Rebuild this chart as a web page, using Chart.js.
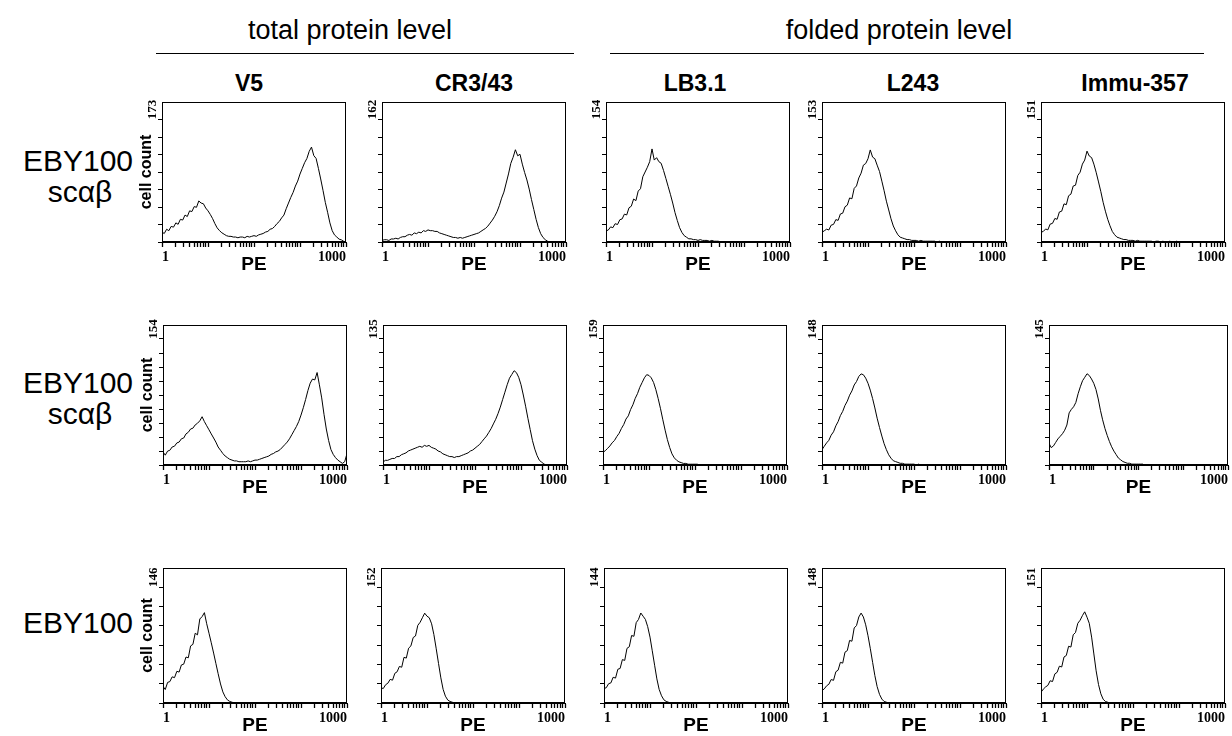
<!DOCTYPE html>
<html>
<head>
<meta charset="utf-8">
<script src="https://cdn.jsdelivr.net/npm/chart.js@4.4.0/dist/chart.umd.min.js"></script>
<style>
  body { margin:0; background:#fff; width:1232px; height:736px; position:relative; overflow:hidden;
         font-family: Arial, "Liberation Sans", sans-serif; color:#000; }
  .txt { position:absolute; white-space:nowrap; line-height:1; transform:translate(-50%,-50%); }
  .head { font-size:27px; }
  .col { font-size:23px; font-weight:bold; }
  .row { font-size:30px; text-align:center; }
  .rule { position:absolute; height:0; border-top:1.5px solid #000; }
</style>
</head>
<body>
<div class="txt head" style="left:350px;top:30px">total protein level</div>
<div class="txt head" style="left:899px;top:30px">folded protein level</div>
<div class="rule" style="left:156px;top:53px;width:418px"></div>
<div class="rule" style="left:610px;top:53px;width:594px"></div>

<div class="txt col" style="left:249px;top:83px">V5</div>
<div class="txt col" style="left:474px;top:83px">CR3/43</div>
<div class="txt col" style="left:695px;top:83px">LB3.1</div>
<div class="txt col" style="left:913px;top:83px">L243</div>
<div class="txt col" style="left:1135px;top:83px">Immu-357</div>

<div class="txt row" style="left:78px;top:161px">EBY100</div>
<div class="txt row" style="left:80px;top:192px">sc&alpha;&beta;</div>
<div class="txt row" style="left:78px;top:383px">EBY100</div>
<div class="txt row" style="left:80px;top:414px">sc&alpha;&beta;</div>
<div class="txt row" style="left:78px;top:623px">EBY100</div>

<script>
// PE channel values, 0.05 decade apart (1 .. 10^4)
const pe = [1, 1.12, 1.26, 1.41, 1.58, 1.78, 2, 2.24, 2.51, 2.82,
  3.16, 3.55, 3.98, 4.47, 5.01, 5.62, 6.31, 7.08, 7.94, 8.91,
  10, 11.2, 12.6, 14.1, 15.8, 17.8, 20, 22.4, 25.1, 28.2,
  31.6, 35.5, 39.8, 44.7, 50.1, 56.2, 63.1, 70.8, 79.4, 89.1,
  100, 112, 126, 141, 158, 178, 200, 224, 251, 282,
  316, 355, 398, 447, 501, 562, 631, 708, 794, 891,
  1000, 1122, 1259, 1413, 1585, 1778, 1995, 2239, 2512, 2818,
  3162, 3548, 3981, 4467, 5012, 5623, 6310, 7079, 7943, 8913,
  10000];

// top y tick label of each panel
const topLabels = [
  [173, 162, 154, 153, 151],
  [154, 135, 159, 148, 145],
  [146, 152, 144, 148, 151]
];

// ---- row 1 : EBY100 sc-alpha-beta ----
const row1V5 = [14,12,18,16,22,21,27,25,32,31, 38,36,44,43,50,49,58,55,54,48,
  44,39,33,26,20,16,13,11,9,8, 8,7,7,6,7,7,6,8,7,8, 9,8,10,11,12,14,15,18,19,22,
  26,29,34,38,47,55,63,70,79,86, 96,104,112,118,128,134,122,118,104,89,
  73,56,42,27,16,10,7,4,3,1, 0];
const row1CR = [2,3,3,2,4,4,5,4,6,7, 7,9,10,9,12,11,13,12,15,14, 16,15,15,14,14,12,11,10,9,8,
  7,6,6,5,6,5,6,7,8,9, 10,11,12,14,16,18,21,25,29,34, 40,48,58,66,78,90,104,112,122,114,
  116,103,92,82,70,56,43,30,19,11, 6,3,1,0];
const row1LB = [14,15,19,18,23,22,28,29,35,34, 43,45,54,52,64,67,82,88,94,101,
  117,103,106,101,99,90,80,70,60,49, 37,27,18,12,8,6,4,4,3,3, 2,3,2,2,2,1,2,1,1,1];
const row1L243 = [12,14,16,15,21,22,28,27,35,36, 44,46,55,54,67,70,80,86,96,98,
  104,115,106,104,96,88,76,64,51,40, 29,20,14,9,6,5,4,3,3,2, 2,2,1,2,1,1,1,1,1,1, 0,1,0];
const row1Immu = [12,13,16,15,22,23,29,28,37,38, 47,46,57,59,69,70,82,86,96,101,
  112,106,104,96,86,74,62,49,38,28, 20,13,9,6,5,4,3,3,2,2, 2,1,2,1,1,1,1,1,1,0,
  1,1,0,1,0,0,1,0,0,1, 0];

// ---- row 2 : EBY100 sc-alpha-beta ----
const row2V5 = [16,12,17,18,22,23,27,28,32,33, 38,40,44,45,49,51,54,59,53,48,
  43,38,33,28,22,18,14,11,9,7, 6,5,5,4,4,4,4,5,4,5, 6,6,7,8,9,10,11,13,14,16,
  17,19,22,25,28,32,37,42,47,53, 61,70,80,91,100,105,104,113,98,82,
  62,44,30,19,13,9,6,4,2,4, 14];
const row2CR = [3,5,5,6,7,7,9,9,11,12, 13,15,16,17,18,19,20,19,21,20, 21,19,18,17,15,14,12,11,10,9,
  9,8,9,9,10,11,12,13,15,16, 18,20,22,25,28,31,35,39,44,49, 55,62,70,78,86,93,97,101,99,94,
  86,75,63,50,38,26,17,10,5,3, 1,0];
const row2LB = [16,18,21,24,28,31,36,40,46,51, 58,62,70,76,84,90,98,104,110,114,
  113,110,104,95,84,71,57,44,32,22, 14,9,6,4,3,2,2,1,1,1, 1,1,0,0,0];
const row2L243 = [18,22,26,29,35,39,46,51,58,63, 70,75,82,87,94,98,104,107,106,102,
  96,88,78,67,55,44,34,25,18,12, 8,5,4,3,2,2,1,1,1,1, 1,0,1,0,0,0,0];
const row2Immu = [25,20,22,26,30,33,36,40,46,60, 64,67,72,82,90,97,101,105,103,99,
  94,87,76,63,52,42,34,27,21,16, 12,8,6,4,3,2,2,1,1,1, 1,1,1];

// ---- row 3 : EBY100 ----
const row3V5 = [21,17,26,27,33,32,40,39,48,49, 58,57,72,74,88,86,106,109,114,100,
  88,76,63,50,37,24,14,8,4,2, 1,0,0];
const row3CR = [20,19,24,26,31,30,39,41,48,47, 60,59,72,75,86,88,102,106,112,118,
  114,112,104,90,72,52,33,18,9,4, 2,1,0];
const row3LB = [18,19,24,25,32,31,42,43,54,53, 68,70,84,83,100,104,112,108,104,95,
  82,65,47,30,17,9,4,2,1,0, 0];
const row3L243 = [16,18,22,24,30,29,40,42,52,51, 65,67,80,79,96,99,110,115,110,100,
  86,70,52,35,21,11,5,2,1,0, 0];
const row3Immu = [14,18,21,23,29,28,38,40,48,47, 60,62,74,73,89,92,104,108,114,119,
  112,104,86,64,42,24,12,5,2,1, 0,0];

const series = [
  [row1V5, row1CR, row1LB, row1L243, row1Immu],
  [row2V5, row2CR, row2LB, row2L243, row2Immu],
  [row3V5, row3CR, row3LB, row3L243, row3Immu]
];

//===================== layout ==========================
const rowTop = [102, 325, 568];
const rowH = [140, 140, 135];
const rowSteps = [8, 10, 7];
const colLeft = [
  [162, 382, 606, 822, 1041],
  [163, 383, 603, 822, 1049],
  [163, 381, 604, 822, 1041]
];
const YW = 26, PT = 8, PR = 8, XH = 34;

const xTicks = [];
for (const d of [1, 10, 100, 1000]) {
  for (let m = 1; m < 10; m++) xTicks.push(m * d);
}
xTicks.push(10000);

const serif = {family: '"Liberation Serif", "DejaVu Serif", serif', weight: 'bold'};
const sans = 'Arial, "Liberation Sans", sans-serif';

// box round the plot area
const framePlugin = {
  id: 'frame',
  afterDatasetsDraw(chart) {
    const {ctx, chartArea: a} = chart;
    ctx.save();
    ctx.strokeStyle = '#000';
    ctx.lineWidth = 1;
    ctx.strokeRect(Math.round(a.left) + 0.5, Math.round(a.top) + 0.5,
      Math.round(a.right - a.left) - 1, Math.round(a.bottom - a.top) - 1);
    ctx.restore();
  }
};

function makePanel(r, c) {
  const w = (r === 1 && c === 4) ? 179 : 184;
  const h = rowH[r];
  const cv = document.createElement('canvas');
  cv.width = YW + w + PR;
  cv.height = PT + h + XH;
  cv.style.cssText = 'position:absolute;left:' + (colLeft[r][c] - YW) + 'px;top:' + (rowTop[r] - PT) +
    'px;width:' + cv.width + 'px;height:' + cv.height + 'px';
  document.body.appendChild(cv);

  const lab = topLabels[r][c];
  const n = rowSteps[r];
  const step = lab / (n - 1);

  new Chart(cv, {
    type: 'line',
    data: {
      labels: pe,
      datasets: [{
        data: series[r][c],
        borderColor: '#000',
        borderWidth: 1,
        pointRadius: 0,
        pointHoverRadius: 0,
        fill: false,
        tension: 0
      }]
    },
    options: {
      responsive: false,
      animation: false,
      events: [],
      layout: {padding: {left: 0, top: PT, right: PR, bottom: 0}},
      plugins: {legend: {display: false}, tooltip: {enabled: false}},
      scales: {
        x: {
          type: 'logarithmic',
          min: 1,
          max: 10000,
          afterBuildTicks: s => { s.ticks = xTicks.map(v => ({value: v})); },
          afterFit: s => { s.height = XH; },
          ticks: {
            autoSkip: false, minRotation: 0, maxRotation: 0, align: 'inner', padding: 2,
            color: '#000', font: Object.assign({size: 14}, serif),
            callback: v => v === 1 ? '1' : (v === 10000 ? '1000' : '')
          },
          grid: {drawOnChartArea: false, drawTicks: true, tickLength: 5, tickWidth: 1.3, color: '#000'},
          border: {display: true, color: '#000'},
          title: {
            display: true, text: 'PE', color: '#000',
            font: {family: sans, weight: 'bold', size: 19},
            padding: {top: 0, bottom: 0}
          }
        },
        y: {
          min: 0,
          max: lab * n / (n - 1),
          afterBuildTicks: s => {
            const t = [];
            for (let k = 0; k < n; k++) t.push({value: k * step});
            s.ticks = t;
          },
          afterFit: s => { s.width = YW; },
          ticks: {
            autoSkip: false, minRotation: 90, maxRotation: 90, crossAlign: 'center',
            padding: -4, labelOffset: -10,
            color: '#000', font: Object.assign({size: 13}, serif),
            callback: v => Math.abs(v - lab) < 0.01 ? String(lab) : ''
          },
          grid: {drawOnChartArea: false, drawTicks: true, tickLength: 4, color: '#000'},
          border: {display: true, color: '#000'},
          title: {
            display: c === 0, text: 'cell count', color: '#000',
            font: {family: sans, weight: 'bold', size: 16},
            padding: {top: 1, bottom: 0}
          }
        }
      }
    },
    plugins: [framePlugin]
  });
}

for (let r = 0; r < 3; r++) {
  for (let c = 0; c < 5; c++) makePanel(r, c);
}
</script>
</body>
</html>
